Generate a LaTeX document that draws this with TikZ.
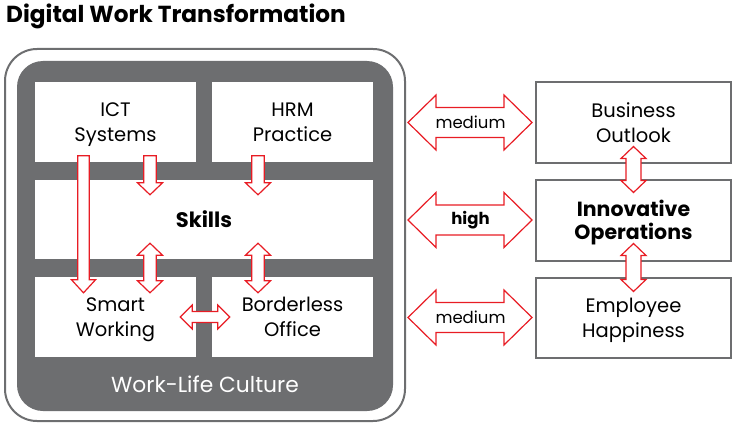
\documentclass[tikz,border=0pt]{standalone}
\usepackage{fontspec}
\setmainfont{Poppins}
\usetikzlibrary{calc,positioning}
\definecolor{dwgray}{RGB}{109,110,112}
\definecolor{dwred}{RGB}{232,28,36}
\tikzset{
  box/.style={fill=white,align=center,inner sep=0pt,text depth=0pt,minimum width=161pt,minimum height=79pt,font=\fontsize{19.5}{25}\selectfont},
  sidebox/.style={box,draw=dwgray,line width=2pt,minimum width=195pt,minimum height=80pt},
  fatline/.style={draw=dwred,fill=white,line width=1.2pt,line join=miter},
  fatdbl/.style n args={3}{fatline,to path={(\tikztostart)
    -- ($(\tikztostart)!#3!(\tikztotarget)!#2!90:(\tikztotarget)$)
    -- ($(\tikztostart)!#3!(\tikztotarget)!#1!90:(\tikztotarget)$)
    -- ($(\tikztotarget)!#3!(\tikztostart)!#1!-90:(\tikztostart)$)
    -- ($(\tikztotarget)!#3!(\tikztostart)!#2!-90:(\tikztostart)$)
    -- (\tikztotarget)
    -- ($(\tikztotarget)!#3!(\tikztostart)!#2!90:(\tikztostart)$)
    -- ($(\tikztotarget)!#3!(\tikztostart)!#1!90:(\tikztostart)$)
    -- ($(\tikztostart)!#3!(\tikztotarget)!#1!-90:(\tikztotarget)$)
    -- ($(\tikztostart)!#3!(\tikztotarget)!#2!-90:(\tikztotarget)$)
    -- cycle}},
  fatone/.style n args={3}{fatline,to path={($(\tikztostart)!#1!90:(\tikztotarget)$)
    -- ($(\tikztotarget)!#3!(\tikztostart)!#1!-90:(\tikztostart)$)
    -- ($(\tikztotarget)!#3!(\tikztostart)!#2!-90:(\tikztostart)$)
    -- (\tikztotarget)
    -- ($(\tikztotarget)!#3!(\tikztostart)!#2!90:(\tikztostart)$)
    -- ($(\tikztotarget)!#3!(\tikztostart)!#1!90:(\tikztostart)$)
    -- ($(\tikztostart)!#1!-90:(\tikztotarget)$)
    -- cycle}},
}
\begin{document}
\begin{tikzpicture}[x=1pt,y=-1pt]
\useasboundingbox (0,0) rectangle (735,425);
\node[anchor=base west,inner sep=0pt,font=\bfseries\fontsize{23.2}{26}\selectfont] (title) at (6,23) {Digital Work Transformation};
% frame and culture
\node[draw=dwgray,line width=2pt,fill=white,rounded corners=32pt,minimum width=400pt,minimum height=372pt] (frame) at (205,235) {};
\node[fill=dwgray,rounded corners=26pt,minimum width=376pt,minimum height=350pt] (culture) at (205,236) {};
\node[anchor=base,text=white,font=\fontsize{21.8}{24}\selectfont] (wlc) at (205,392) {Work-Life Culture};
% inner boxes
\node[box] (ict) at (115.5,122) {ICT\\Systems};
\node[box] (hrm) at (292.5,122) {HRM\\Practice};
\node[box,minimum width=338pt,font=\bfseries\fontsize{21}{25}\selectfont] (skills) at (204,219.5) {Skills};
\node[box,minimum height=80pt] (smart) at (115.5,317) {Smart\\Working};
\node[box,minimum height=80pt] (office) at (292.5,317) {Borderless\\Office};
% outcome boxes
\node[sidebox] (outlook) at (633.5,122.5) {Business\\Outlook};
\node[sidebox,minimum height=81pt,font=\bfseries\fontsize{20.5}{23}\selectfont] (innov) at (633.5,220) {Innovative\\Operations};
\node[sidebox] (happy) at (633.5,317.5) {Employee\\Happiness};
% arrows inside
\draw[fatone={5.8pt}{12pt}{13pt}] ($(ict.south)+(-32,-6)$) to ($(smart.north)+(-32,16)$);
\draw[fatone={6.3pt}{12.5pt}{12pt}] ($(ict.south)+(34.5,-6)$) to ($(skills.north)+(-54,15)$);
\draw[fatone={6.3pt}{12.5pt}{12pt}] ($(hrm.south)+(-34.5,-6)$) to ($(skills.north)+(54,15)$);
\draw[fatdbl={6.3pt}{12.5pt}{12pt}] ($(skills.south)+(-54,-16)$) to ($(smart.north)+(34.5,16)$);
\draw[fatdbl={6.3pt}{12.5pt}{12pt}] ($(skills.south)+(54,-16)$) to ($(office.north)+(-34.5,16)$);
\draw[fatdbl={5.5pt}{12pt}{12pt}] ($(smart.east)+(-16,0)$) to ($(office.west)+(18,0)$);
% arrows outside
\foreach \b/\lab in {outlook/medium,innov/\textbf{high},happy/medium}{
  \draw[fatdbl={15pt}{27.5pt}{28pt}] ($(frame.east |- \b.west)+(2,0)$) to ($(\b.west)+(-3,0)$);
  \node[font=\fontsize{16.5}{19}\selectfont] (\b-lab) at ($(frame.east |- \b.west)!0.5!(\b.west)$) {\lab};}
\draw[fatdbl={7.5pt}{12.5pt}{12pt}] ($(outlook.south)+(0,-17)$) to ($(innov.north)+(0,14)$);
\draw[fatdbl={7.5pt}{12.5pt}{12pt}] ($(innov.south)+(0,-18)$) to ($(happy.north)+(0,15)$);
\end{tikzpicture}
\end{document}
